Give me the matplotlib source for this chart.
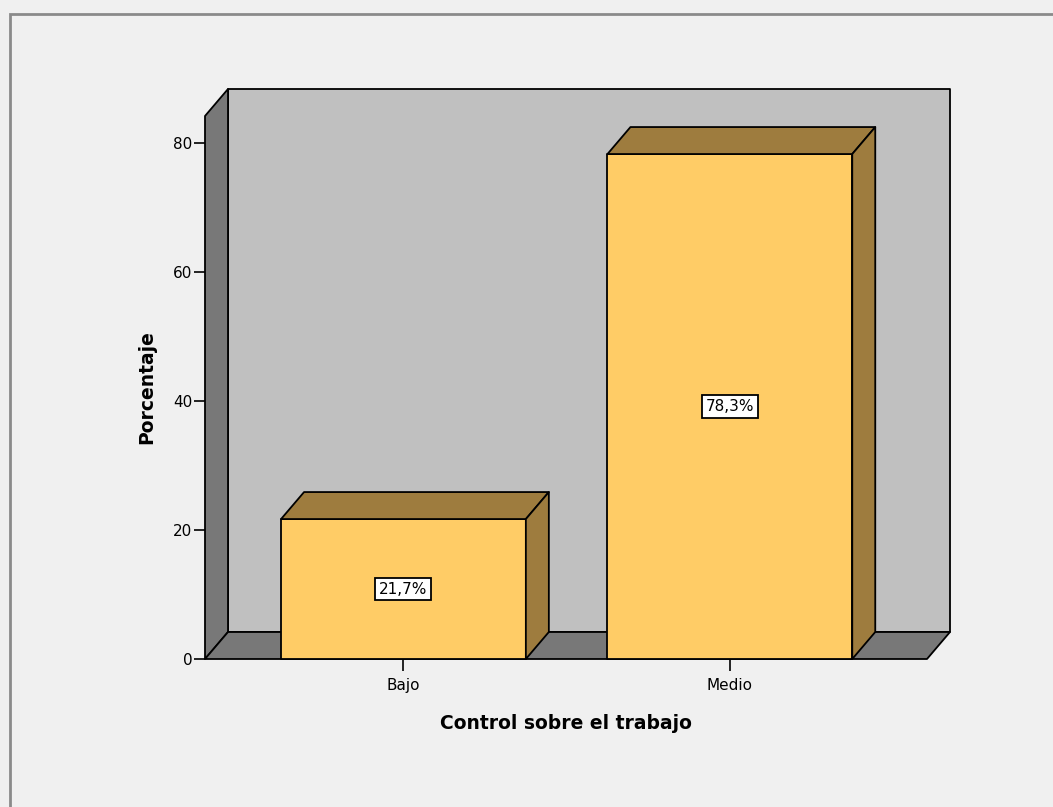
import matplotlib.pyplot as plt
import matplotlib.patches as mpatches
import numpy as np

categories = ['Bajo', 'Medio']
percent = [21.7, 78.3]
labels = ['21,7%', '78,3%']
yticks = [0, 20, 40, 60, 80]

plt.rcParams['font.family'] = ['DejaVu Sans']

W, H = 1053, 807
fig = plt.figure(figsize=(W / 100, H / 100), dpi=100, facecolor='#f0f0f0')

# outer frame (SPSS output border)
fig.patches.append(mpatches.Rectangle((10 / W, -0.1), 1.2, 1 - 14 / H + 0.1,
                                      transform=fig.transFigure, fill=False,
                                      edgecolor='#8a8a8a', lw=2))

ax = fig.add_axes([205 / W, (H - 659) / H, (927 - 205) / W, (659 - 116) / H])
ax.set_facecolor('none')
for s in ax.spines.values():
    s.set_visible(False)

xmin, xmax = -0.608, 1.604
ymax = 84.2
ax.set_xlim(xmin, xmax)
ax.set_ylim(0, ymax)

# depth offsets in data units
px_x = (927 - 205) / (xmax - xmin)
px_y = (659 - 116) / ymax
dx = 23 / px_x
dy = 27 / px_y

wall = '#c0c0c0'
side = '#787878'
front = '#ffcc66'
dark = '#9e7c3e'
lw = 1.3

def poly(pts, fc):
    ax.add_patch(mpatches.Polygon(pts, closed=True, facecolor=fc,
                                  edgecolor='black', lw=lw, clip_on=False,
                                  joinstyle='round'))

# back wall, left wall, floor
poly([(xmin + dx, dy), (xmax + dx, dy), (xmax + dx, ymax + dy), (xmin + dx, ymax + dy)], wall)
poly([(xmin, 0), (xmin + dx, dy), (xmin + dx, ymax + dy), (xmin, ymax)], side)
poly([(xmin, 0), (xmin + dx, dy), (xmax + dx, dy), (xmax, 0)], side)

w = 0.75
for i, (v, lab) in enumerate(zip(percent, labels)):
    l, r = i - w / 2, i + w / 2
    poly([(l, 0), (r, 0), (r, v), (l, v)], front)
    poly([(l, v), (l + dx, v + dy), (r + dx, v + dy), (r, v)], dark)
    poly([(r, 0), (r + dx, dy), (r + dx, v + dy), (r, v)], dark)
    ax.text(i, v / 2, lab, ha='center', va='center', fontsize=11,
            bbox=dict(boxstyle='square,pad=0.25', facecolor='white',
                      edgecolor='black', lw=1.3))

ax.set_yticks(yticks)
ax.set_xticks(range(len(categories)))
ax.set_xticklabels(categories)
ax.tick_params(axis='y', direction='out', length=8, width=1.2, pad=1, labelsize=11)
ax.tick_params(axis='x', direction='out', length=8.5, width=1.2, pad=5, labelsize=11)

ax.set_ylabel('Porcentaje', fontsize=13.5, fontweight='bold', labelpad=12)
ax.set_xlabel('Control sobre el trabajo', fontsize=13.5, fontweight='bold', labelpad=15)

fig.savefig('out.png', dpi=100, facecolor=fig.get_facecolor())
